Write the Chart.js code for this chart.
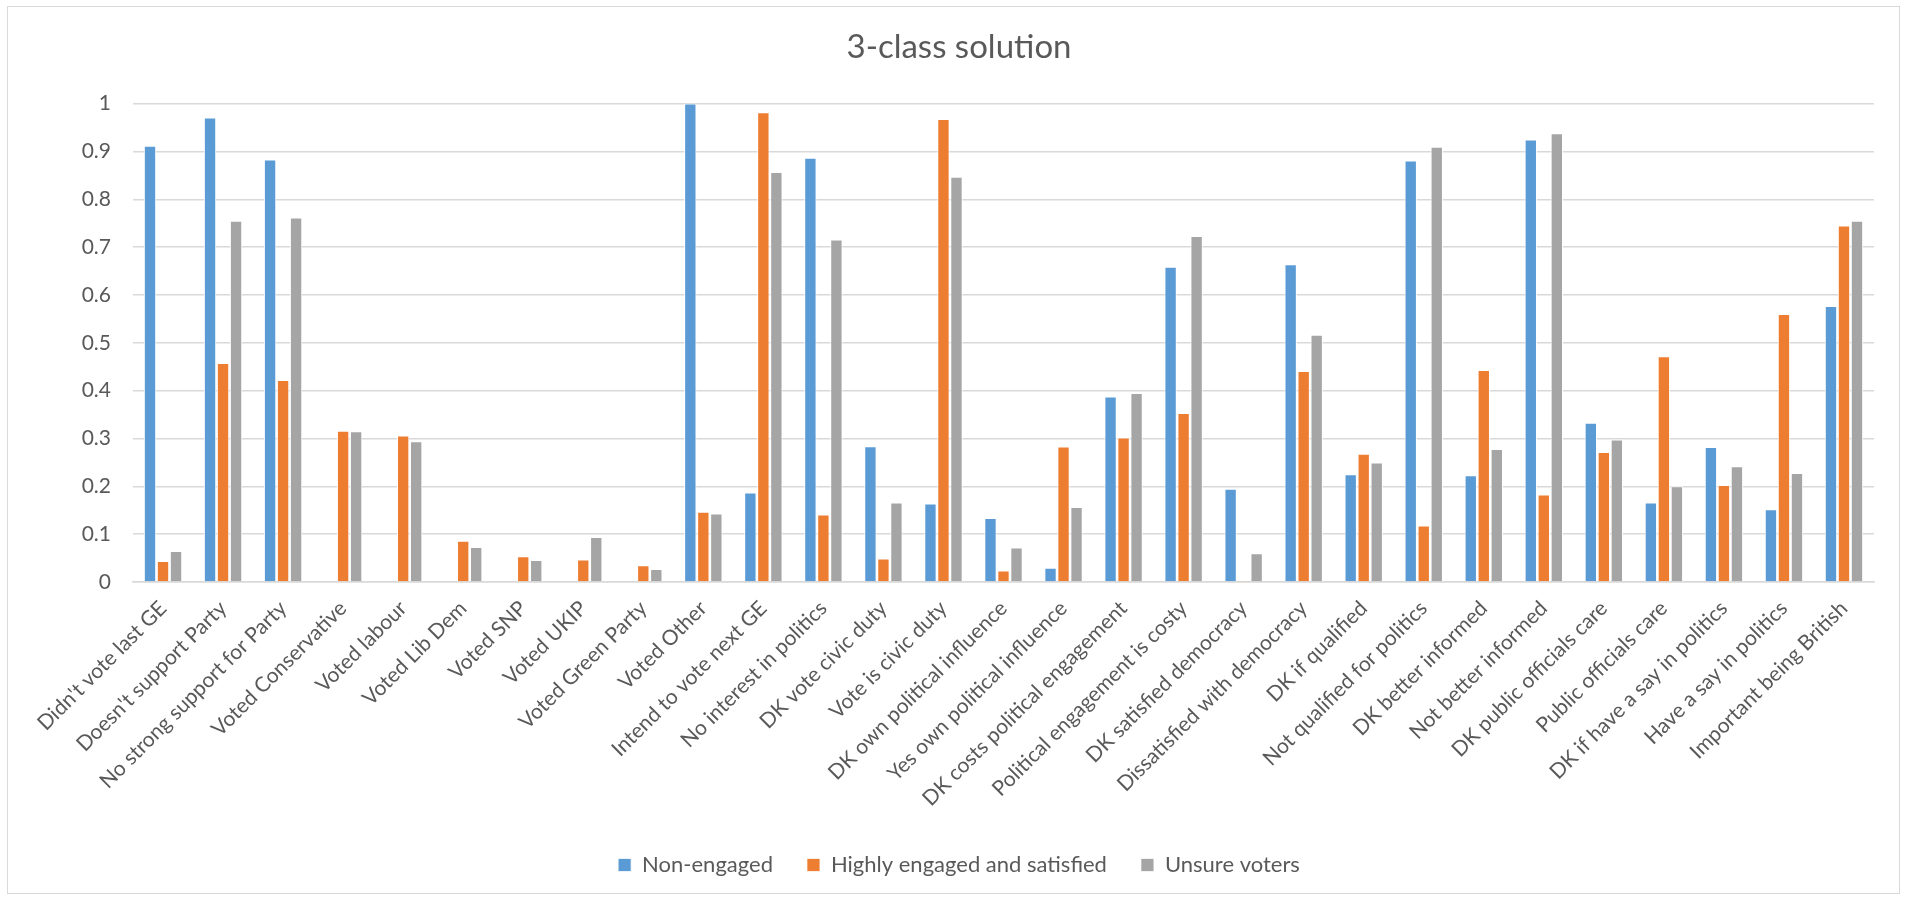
<!DOCTYPE html>
<html lang="en">

<head>
    <meta charset="UTF-8">
    <title>3-class solution</title>
    <script src="https://cdn.jsdelivr.net/npm/chart.js"></script>
    <style>
        body {
            margin: 0;
            background: #fff;
        }

        #wrap {
            position: relative;
            width: 1906px;
            height: 900px;
        }

        #frame {
            position: absolute;
            left: 7px;
            top: 6px;
            width: 1891px;
            height: 886px;
            border: 1px solid #d9d9d9;
            pointer-events: none;
        }
    </style>
</head>

<body>
    <div id="wrap">
        <canvas id="chart" width="1906" height="900"></canvas>
        <div id="frame"></div>
    </div>

    <script>
        // categories (x axis)
        const categories = [
            "Didn't vote last GE", "Doesn't support Party", "No strong support for Party",
            "Voted Conservative", "Voted labour", "Voted Lib Dem", "Voted SNP", "Voted UKIP",
            "Voted Green Party", "Voted Other", "Intend to vote next GE", "No interest in politics",
            "DK vote civic duty", "Vote is civic duty", "DK own political influence",
            "Yes own political influence", "DK costs political engagement",
            "Political engagement is costy", "DK satisfied democracy", "Dissatisfied with democracy",
            "DK if qualified", "Not qualified for politics", "DK better informed",
            "Not better informed", "DK public officials care", "Public officials care",
            "DK if have a say in politics", "Have a say in politics", "Important being British"
        ];

        // series values
        const nonEngaged = [
            0.912, 0.971, 0.883, 0, 0, 0, 0, 0, 0, 1.0,
            0.187, 0.887, 0.284, 0.164, 0.134, 0.030, 0.388, 0.659, 0.195, 0.664,
            0.225, 0.881, 0.223, 0.925, 0.333, 0.166, 0.282, 0.152, 0.577
        ];
        const highlyEngaged = [
            0.044, 0.458, 0.422, 0.316, 0.306, 0.086, 0.054, 0.047, 0.035, 0.147,
            0.982, 0.141, 0.049, 0.968, 0.024, 0.283, 0.302, 0.353, 0.003, 0.441,
            0.268, 0.118, 0.443, 0.183, 0.272, 0.472, 0.203, 0.560, 0.745
        ];
        const unsureVoters = [
            0.065, 0.755, 0.762, 0.315, 0.294, 0.073, 0.046, 0.094, 0.027, 0.143,
            0.857, 0.716, 0.166, 0.847, 0.072, 0.157, 0.395, 0.723, 0.060, 0.517,
            0.250, 0.910, 0.278, 0.938, 0.298, 0.200, 0.242, 0.228, 0.755
        ];

        const seriesNames = ["Non-engaged", "Highly engaged and satisfied", "Unsure voters"];
        const seriesColors = ["#5B9BD5", "#ED7D31", "#A5A5A5"];

        // y axis tick labels
        const yTickLabels = ["0", "0.1", "0.2", "0.3", "0.4", "0.5", "0.6", "0.7", "0.8", "0.9", "1"];

        const textColor = "#595959";
        const gridColor = "#d9d9d9";
        Chart.defaults.font.family = "Lato, 'Open Sans', sans-serif";
        Chart.defaults.color = textColor;

        const seriesData = [nonEngaged, highlyEngaged, unsureVoters];
        const datasets = seriesNames.map((name, i) => ({
            label: name,
            data: seriesData[i],
            backgroundColor: seriesColors[i],
            borderColor: "#ffffff",
            borderWidth: { top: 1, left: 1, right: 1, bottom: 0 },
            categoryPercentage: 0.65,
            barPercentage: 0.95
        }));

        const ctx = document.getElementById("chart").getContext("2d");
        new Chart(ctx, {
            type: "bar",
            data: { labels: categories, datasets: datasets },
            options: {
                responsive: false,
                animation: false,
                devicePixelRatio: 1,
                layout: {
                    // left/right padding also centres title and legend
                    padding: { top: 0, left: 44, right: 32, bottom: 14 }
                },
                plugins: {
                    title: {
                        display: true,
                        text: "3-class solution",
                        color: textColor,
                        font: { size: 33, weight: "normal" },
                        padding: { top: 28, bottom: 36 }
                    },
                    legend: {
                        position: "bottom",
                        labels: {
                            color: textColor,
                            font: { size: 22 },
                            boxWidth: 13,
                            boxHeight: 13,
                            padding: 34
                        }
                    },
                    tooltip: { enabled: false }
                },
                scales: {
                    x: {
                        grid: { display: false },
                        border: { color: gridColor, width: 1.5 },
                        ticks: {
                            color: textColor,
                            font: { size: 21 },
                            autoSkip: false,
                            minRotation: 45,
                            maxRotation: 45,
                            padding: 6
                        },
                        afterFit: (scale) => { scale.height = 238; }
                    },
                    y: {
                        min: 0,
                        max: 1,
                        grid: { color: gridColor, lineWidth: 1.5, drawTicks: false },
                        border: { display: false },
                        ticks: {
                            stepSize: 0.1,
                            color: textColor,
                            font: { size: 21 },
                            padding: 22,
                            callback: (value, index) => yTickLabels[index]
                        },
                        afterFit: (scale) => { scale.width = 89; }
                    }
                }
            }
        });
    </script>
</body>

</html>
